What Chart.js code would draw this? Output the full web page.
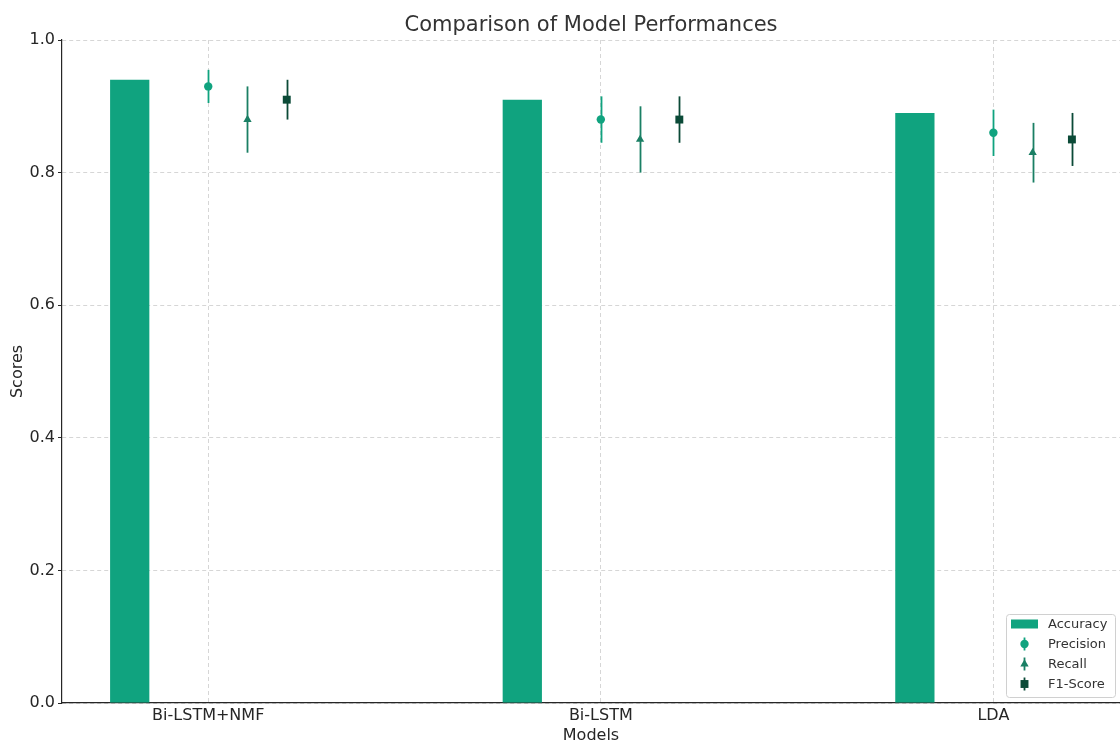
<!DOCTYPE html>
<html>
<head>
<meta charset="utf-8">
<script src="https://cdn.jsdelivr.net/npm/chart.js@4.4.0/dist/chart.umd.min.js"></script>
<style>
  html, body { margin: 0; padding: 0; background: #ffffff; }
  #wrap { width: 1120px; height: 747px; }
</style>
</head>
<body>
<div id="wrap"><canvas id="c" width="1120" height="747"></canvas></div>
<script>
// Model scores
const models = ['Bi-LSTM+NMF', 'Bi-LSTM', 'LDA'];
const accuracy = [0.94, 0.91, 0.89];
const precision = [0.93, 0.88, 0.86];
const precisionErr = [0.025, 0.035, 0.035];
const recall = [0.88, 0.85, 0.83];
const recallErr = [0.05, 0.05, 0.045];
const f1Score = [0.91, 0.88, 0.85];
const f1Err = [0.03, 0.035, 0.04];
const yTicks = [0.0, 0.2, 0.4, 0.6, 0.8, 1.0];
const chartTitle = 'Comparison of Model Performances';

const FONT = 'DejaVu Sans';
const TEXT = '#262626';
const C_ACC = '#10a37f';
const C_PREC = '#10a37f';
const C_REC = '#1a7f64';
const C_F1 = '#0b4a37';

// x position of each series inside a model group
const at = (vals, shift) => vals.map((v, i) => ({ x: i + shift, y: v }));

// vertical error bars, drawn under each scatter series' markers
const errorBars = {
  id: 'errorBars',
  beforeDatasetDraw(chart, args) {
    const ds = chart.data.datasets[args.index];
    if (!ds.errors) return;
    const xs = chart.scales.x, ys = chart.scales.y, ctx = chart.ctx;
    ctx.save();
    ctx.strokeStyle = ds.backgroundColor;
    ctx.lineWidth = 1.8;
    ds.data.forEach((p, i) => {
      const px = Math.round(xs.getPixelForValue(p.x)) + 0.5;
      ctx.beginPath();
      ctx.moveTo(px, ys.getPixelForValue(p.y - ds.errors[i]));
      ctx.lineTo(px, ys.getPixelForValue(p.y + ds.errors[i]));
      ctx.stroke();
    });
    ctx.restore();
  }
};

// title centred over the plot area
const plotTitle = {
  id: 'plotTitle',
  afterDraw(chart) {
    const ctx = chart.ctx, a = chart.chartArea;
    ctx.save();
    ctx.font = '21px "' + FONT + '"';
    ctx.fillStyle = '#333333';
    ctx.textAlign = 'center';
    ctx.textBaseline = 'middle';
    ctx.fillText(chartTitle, (a.left + a.right) / 2, 26);
    ctx.restore();
  }
};

// legend box in the lower right corner of the plot
const cornerLegend = {
  id: 'cornerLegend',
  afterDraw(chart) {
    const ctx = chart.ctx;
    const left = 1006, top = 614, w = 109, h = 83;
    ctx.save();
    ctx.beginPath();
    ctx.roundRect(left + 0.5, top + 0.5, w, h, 3);
    ctx.fillStyle = 'rgba(255,255,255,0.85)';
    ctx.fill();
    ctx.strokeStyle = '#d0d0d0';
    ctx.lineWidth = 1;
    ctx.stroke();
    ctx.font = '13px "' + FONT + '"';
    ctx.textBaseline = 'middle';
    ctx.textAlign = 'left';
    chart.data.datasets.forEach((ds, i) => {
      const y = top + 10 + i * 20;
      const mx = 1024;
      if (ds.type === 'bar') {
        ctx.fillStyle = ds.backgroundColor;
        ctx.fillRect(1011, y - 4.5, 27, 9);
      } else {
        ctx.strokeStyle = ds.backgroundColor;
        ctx.lineWidth = 1.8;
        ctx.beginPath();
        ctx.moveTo(mx + 0.5, y - 6.5);
        ctx.lineTo(mx + 0.5, y + 6.5);
        ctx.stroke();
        ctx.fillStyle = ds.backgroundColor;
        Chart.helpers.drawPoint(ctx, {
          pointStyle: ds.pointStyle, radius: ds.pointRadius, rotation: 0, borderWidth: 0
        }, mx + 0.5, y);
      }
      ctx.fillStyle = '#333333';
      ctx.fillText(ds.label, 1048, y + 1);
    });
    ctx.restore();
  }
};

new Chart(document.getElementById('c'), {
  type: 'bar',
  data: {
    datasets: [
      {
        type: 'bar', label: 'Accuracy', data: at(accuracy, -0.2),
        backgroundColor: C_ACC, borderWidth: 0,
        barPercentage: 0.1, categoryPercentage: 1.0
      },
      {
        type: 'scatter', label: 'Precision', data: at(precision, 0), errors: precisionErr,
        backgroundColor: C_PREC, borderColor: C_PREC,
        pointStyle: 'circle', pointRadius: 4.2, pointBorderWidth: 0
      },
      {
        type: 'scatter', label: 'Recall', data: at(recall, 0.1), errors: recallErr,
        backgroundColor: C_REC, borderColor: C_REC,
        pointStyle: 'triangle', pointRadius: 4.8, pointBorderWidth: 0
      },
      {
        type: 'scatter', label: 'F1-Score', data: at(f1Score, 0.2), errors: f1Err,
        backgroundColor: C_F1, borderColor: C_F1,
        pointStyle: 'rect', pointRadius: 5.6, pointBorderWidth: 0
      }
    ]
  },
  options: {
    responsive: false,
    animation: false,
    devicePixelRatio: 1,
    events: [],
    layout: { padding: { top: 40, left: 0, right: 0, bottom: 0 }, autoPadding: false },
    plugins: {
      legend: { display: false },
      tooltip: { enabled: false },
      title: { display: false }
    },
    scales: {
      x: {
        type: 'linear',
        min: -0.3725, max: 2.3225,
        offset: false,
        afterBuildTicks: s => { s.ticks = models.map((_, i) => ({ value: i })); },
        afterFit: s => { s.height = 44; },
        ticks: {
          callback: v => models[v] ?? '',
          color: TEXT, font: { family: FONT, size: 16 },
          padding: 3, autoSkip: false, maxRotation: 0
        },
        grid: { offset: false, color: '#cccccc', lineWidth: 0.8, drawTicks: false },
        border: { display: true, color: TEXT, width: 1.2, dash: [4, 3] },
        title: {
          display: true, text: 'Models', color: TEXT,
          font: { family: FONT, size: 16 }, padding: { top: 0, bottom: 1.5 }
        }
      },
      y: {
        type: 'linear',
        min: 0, max: 1,
        afterBuildTicks: s => { s.ticks = yTicks.map(v => ({ value: v })); },
        afterFit: s => { s.width = 62; },
        ticks: {
          callback: v => Number(v).toFixed(1),
          color: TEXT, font: { family: FONT, size: 16 }, padding: 3
        },
        grid: {
          color: '#cccccc', lineWidth: 0.8,
          drawTicks: true, tickLength: 4, tickColor: TEXT, tickWidth: 1, tickBorderDash: []
        },
        border: { display: true, color: TEXT, width: 1.2, dash: [4, 3] },
        title: {
          display: true, text: 'Scores', color: TEXT,
          font: { family: FONT, size: 16 }, padding: { top: 8.5, bottom: 0 }
        }
      }
    }
  },
  plugins: [errorBars, plotTitle, cornerLegend]
});
</script>
</body>
</html>
